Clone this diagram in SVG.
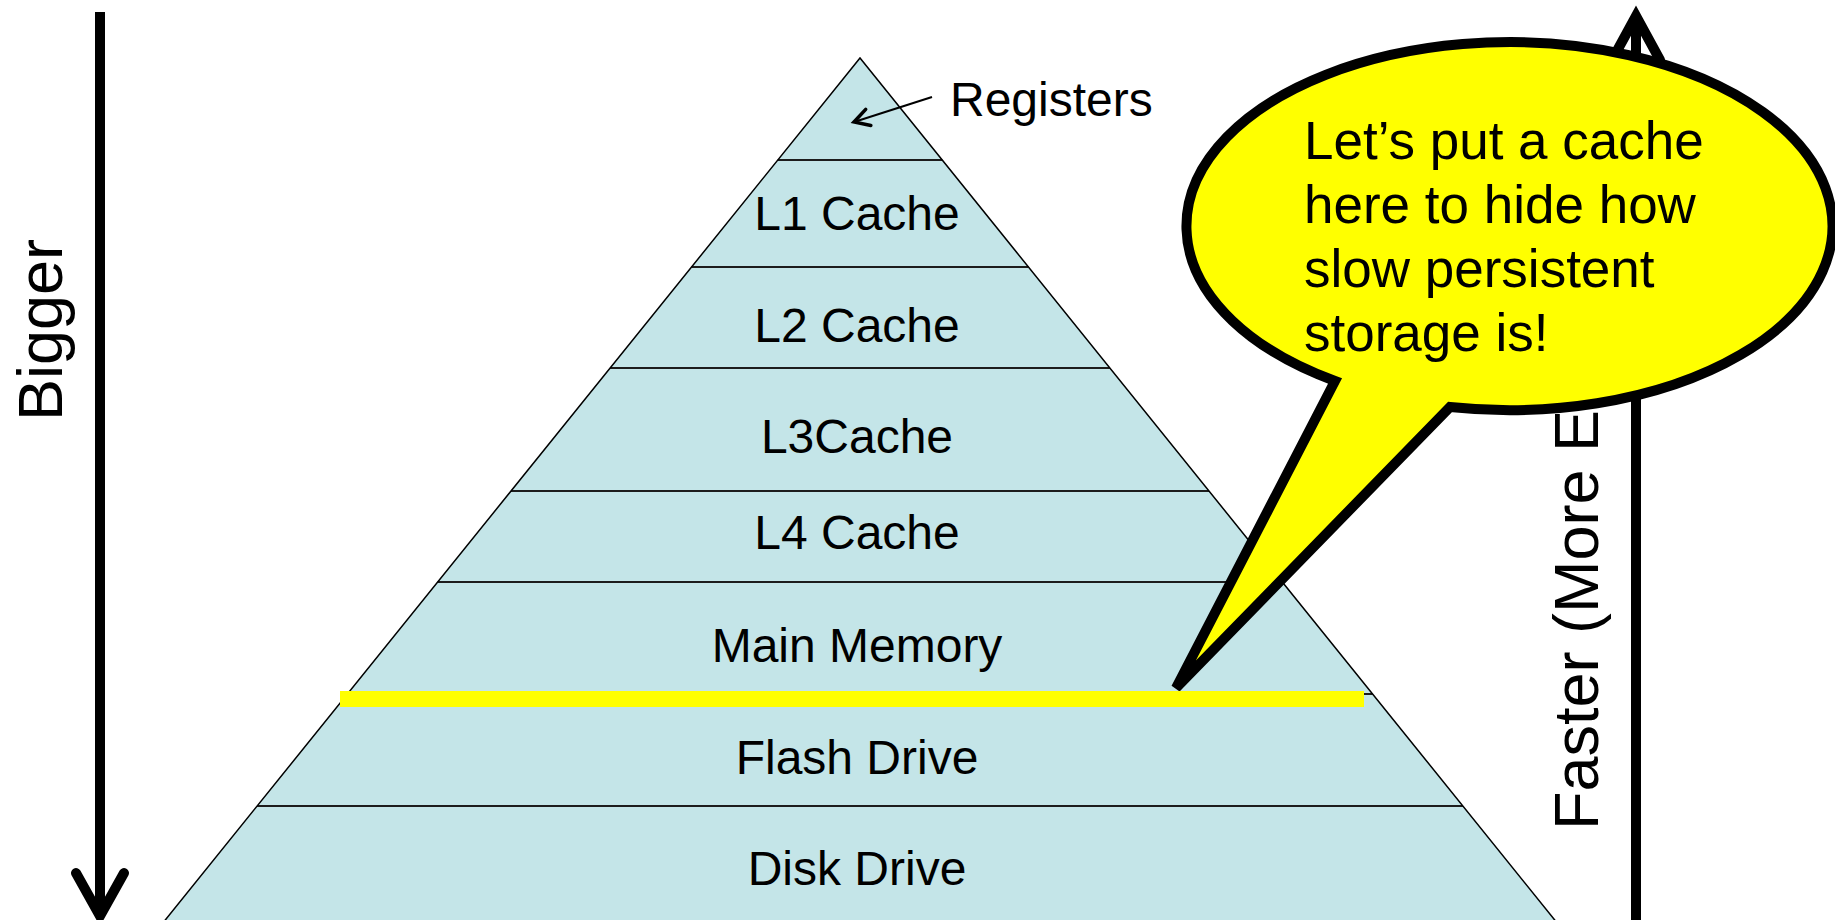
<svg xmlns="http://www.w3.org/2000/svg" width="1835" height="920" viewBox="0 0 1835 920">
  <style>
    .level { fill: #C4E5E8; }
    .label { font-family: "Liberation Sans", Arial, sans-serif; font-size: 48px; fill: #000; text-anchor: middle; }
    .divider { stroke: #1c1c1c; stroke-width: 2; }
    .edge { fill: none; stroke: #000; stroke-width: 1.5; stroke-linejoin: miter; }
    .axis { stroke: #000; stroke-width: 10; fill: none; }
    .axis-head { stroke: #000; stroke-width: 10; fill: none; stroke-linecap: round; stroke-linejoin: miter; stroke-miterlimit: 10; }
    .axis-label { font-family: "Liberation Sans", Arial, sans-serif; font-size: 63px; fill: #000; }
    .callout { fill: #FFFF00; stroke: #000; stroke-width: 10; stroke-linejoin: miter; }
    .callout-text { font-family: "Liberation Sans", Arial, sans-serif; font-size: 53px; fill: #000; }
    .pointer { stroke: #000; stroke-width: 2; fill: none; }
  </style>
  <defs>
    <marker id="open-arrow" markerUnits="userSpaceOnUse" markerWidth="40" markerHeight="40" refX="0" refY="0" orient="auto" overflow="visible">
      <path d="M -15,-8.5 L 0,0 L -15,8.5" fill="none" stroke="#000" stroke-width="3.5" stroke-linecap="round" stroke-linejoin="miter"/>
    </marker>
  </defs>

  <rect width="1835" height="920" fill="#FFFFFF"/>

  <!-- memory hierarchy levels, top to bottom -->
  <g id="level-registers">
    <polygon class="level" points="860,58 942.2,160 777.8,160"/>
  </g>
  <g id="level-l1">
    <polygon class="level" points="777.8,160 942.2,160 1028.5,267 691.5,267"/>
    <text class="label" x="857" y="230">L1 Cache</text>
  </g>
  <g id="level-l2">
    <polygon class="level" points="691.5,267 1028.5,267 1109.9,368 610.1,368"/>
    <text class="label" x="857" y="342">L2 Cache</text>
  </g>
  <g id="level-l3">
    <polygon class="level" points="610.1,368 1109.9,368 1209,491 511,491"/>
    <text class="label" x="857" y="453">L3Cache</text>
  </g>
  <g id="level-l4">
    <polygon class="level" points="511,491 1209,491 1282.3,582 437.7,582"/>
    <text class="label" x="857" y="549">L4 Cache</text>
  </g>
  <g id="level-main-memory">
    <polygon class="level" points="437.7,582 1282.3,582 1372.6,694 347.4,694"/>
    <text class="label" x="857" y="662">Main Memory</text>
  </g>
  <g id="level-flash">
    <polygon class="level" points="347.4,694 1372.6,694 1462.9,806 257.1,806"/>
    <text class="label" x="857" y="774">Flash Drive</text>
  </g>
  <g id="level-disk">
    <polygon class="level" points="257.1,806 1462.9,806 1562.8,930 157.2,930"/>
    <text class="label" x="857" y="885">Disk Drive</text>
  </g>

  <!-- pyramid outline and level dividers -->
  <g id="pyramid-outline">
    <line class="divider" x1="777.8" y1="160" x2="942.2" y2="160"/>
    <line class="divider" x1="691.5" y1="267" x2="1028.5" y2="267"/>
    <line class="divider" x1="610.1" y1="368" x2="1109.9" y2="368"/>
    <line class="divider" x1="511" y1="491" x2="1209" y2="491"/>
    <line class="divider" x1="437.7" y1="582" x2="1282.3" y2="582"/>
    <line class="divider" x1="347.4" y1="694" x2="1372.6" y2="694"/>
    <line class="divider" x1="257.1" y1="806" x2="1462.9" y2="806"/>
    <polyline class="edge" points="157.2,930 860,58 1562.8,930"/>
  </g>

  <g id="label-registers">
    <text class="label" x="950" y="116" style="text-anchor:start;font-size:48px">Registers</text>
  </g>

  <!-- side axes -->
  <g id="axis-bigger">
    <text class="axis-label" transform="translate(62,330) rotate(-90)" text-anchor="middle">Bigger</text>
  </g>
  <g id="axis-faster">
    <text class="axis-label" transform="translate(1598,830) rotate(-90)">Faster (More E</text>
  </g>

  <g id="connectors">
    <line class="pointer" x1="932" y1="97" x2="854" y2="122" marker-end="url(#open-arrow)"/>
    <line class="axis" x1="100" y1="12" x2="100" y2="914"/>
    <polyline class="axis-head" points="76,873 100,916 124,873"/>
    <line class="axis" x1="1636" y1="18" x2="1636" y2="930"/>
    <polyline class="axis-head" points="1612,60 1636,16 1660,60"/>
  </g>

  <!-- speech bubble -->
  <g id="callout">
    <path class="callout" d="M 1335,381 L 1176,688 L 1450,407 A 323 184 0 1 0 1335,381 Z"/>
    <text class="callout-text" x="1304" y="159">Let’s put a cache</text>
    <text class="callout-text" x="1304" y="223">here to hide how</text>
    <text class="callout-text" x="1304" y="287">slow persistent</text>
    <text class="callout-text" x="1304" y="351">storage is!</text>
  </g>

  <!-- boundary highlighted below main memory -->
  <g id="highlight">
    <rect x="340" y="691" width="1024" height="16" fill="#FFFF00"/>
  </g>
</svg>
